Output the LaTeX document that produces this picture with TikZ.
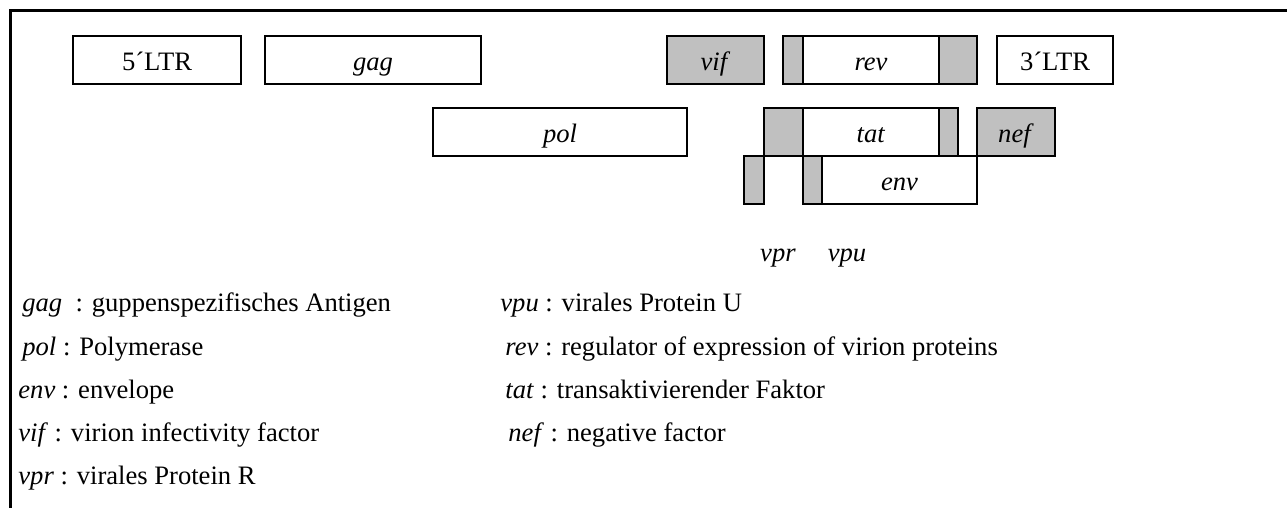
\documentclass[tikz,border=0pt]{standalone}
\usepackage{fontspec}
\setmainfont{Liberation Serif}
\definecolor{genegray}{RGB}{192,192,192}
\begin{document}
\begin{tikzpicture}[x=0.5pt,y=-0.5pt,font=\fontsize{13.3}{16}\selectfont,
  gene/.style={draw,line width=1pt,inner sep=0pt,minimum height=24pt,fill=white,
    text height=10.5pt,text depth=0pt},
  exon/.style={gene,fill=genegray},
  legend/.style={anchor=base west,inner sep=0pt}]
  \useasboundingbox (0,0) rectangle (1287,508);
  \draw[line width=1.5pt] (1287,11) -- (10,11) -- (10,508);
  % first row
  \node[gene,minimum width=84pt] (ltrfive) at (157,60) {5´LTR};
  \node[gene,minimum width=108pt] (gag) at (373,60) {\textit{gag}};
  \node[exon,minimum width=48.5pt] (vif) at (715.5,60) {\textit{vif}};
  \node[exon,minimum width=10pt] (revL) at (793,60) {};
  \node[gene,minimum width=68pt] (rev) at (871,60) {\textit{rev}};
  \node[exon,minimum width=19pt] (revR) at (958,60) {};
  \node[gene,minimum width=58pt] (ltrthree) at (1055,60) {3´LTR};
  % second row
  \node[gene,minimum width=127pt] (pol) at (560,132) {\textit{pol}};
  \node[exon,minimum width=19.5pt] (tatL) at (783.5,132) {};
  \node[gene,minimum width=68pt] (tat) at (871,132) {\textit{tat}};
  \node[exon,minimum width=9.5pt] (tatR) at (948.5,132) {};
  \node[exon,minimum width=39pt] (nef) at (1016,132) {\textit{nef}};
  % third row
  \node[exon,minimum width=10pt] (vpr) at (754,180) {};
  \node[exon,minimum width=9.5pt] (vpu) at (812.5,180) {};
  \node[gene,minimum width=77.5pt] (env) at (899.5,180) {\textit{env}};
  \node (lbvpr) at (778,258) {\textit{vpr}};
  \node (lbvpu) at (847,258) {\textit{vpu}};
  % legend
  \node[legend] (lggag) at (22,312) {\textit{gag}\ \ : guppenspezifisches Antigen};
  \node[legend] (lgpol) at (22,355) {\textit{pol} : Polymerase};
  \node[legend] (lgenv) at (18,398) {\textit{env} : envelope};
  \node[legend] (lgvif) at (18,441) {\textit{vif} : virion infectivity factor};
  \node[legend] (lgvpr) at (18,484) {\textit{vpr} : virales Protein R};
  \node[legend] (lgvpu) at (500,312) {\textit{vpu} : virales Protein U};
  \node[legend] (lgrev) at (505,355) {\textit{rev} : regulator of expression of virion proteins};
  \node[legend] (lgtat) at (505,398) {\textit{tat} : transaktivierender Faktor};
  \node[legend] (lgnef) at (508,441) {\textit{nef} : negative factor};
\end{tikzpicture}
\end{document}
